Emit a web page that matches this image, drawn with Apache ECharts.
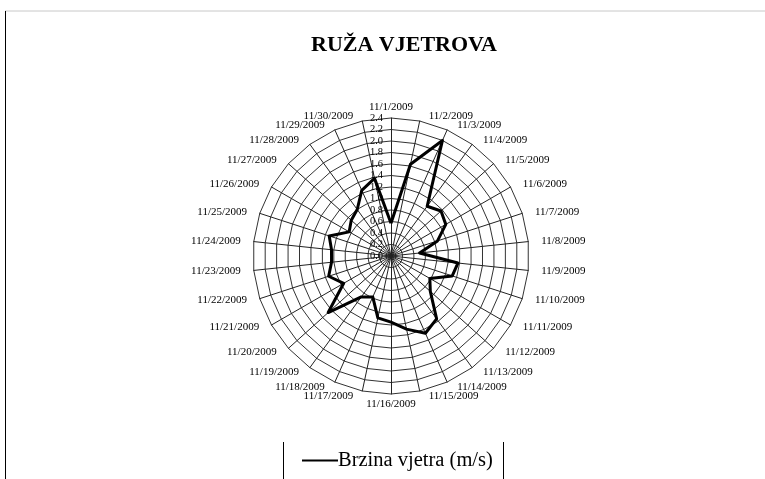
<!DOCTYPE html>
<html>
<head>
<meta charset="utf-8">
<script src="https://cdn.jsdelivr.net/npm/echarts@6/dist/echarts.min.js"></script>
<style>
  html, body { margin: 0; padding: 0; background: #fff; }
  #roseChart { width: 765px; height: 479px; }
</style>
</head>
<body>
<div id="roseChart"></div>
<script>
// datumi (kategorije)
const dani = [
  "11/1/2009", "11/2/2009", "11/3/2009", "11/4/2009", "11/5/2009",
  "11/6/2009", "11/7/2009", "11/8/2009", "11/9/2009", "11/10/2009",
  "11/11/2009", "11/12/2009", "11/13/2009", "11/14/2009", "11/15/2009",
  "11/16/2009", "11/17/2009", "11/18/2009", "11/19/2009", "11/20/2009",
  "11/21/2009", "11/22/2009", "11/23/2009", "11/24/2009", "11/25/2009",
  "11/26/2009", "11/27/2009", "11/28/2009", "11/29/2009", "11/30/2009"
];
// brzina vjetra (m/s)
const brzina = [
  0.57, 1.63, 2.2, 1.07, 1.17,
  1.1, 0.85, 0.5, 1.17, 1.12,
  0.78, 0.92, 1.35, 1.47, 1.3,
  1.15, 1.1, 0.78, 0.88, 1.47,
  0.95, 1.14, 1.04, 1.04, 1.13,
  0.84, 0.93, 1.0, 1.25, 1.38
];
const maxVal = 2.4;

// radar u echarts ide suprotno od kazaljke -> prvi ostaje, ostali obrnuto
const redoslijed = (arr) => [arr[0]].concat(arr.slice(1).reverse());

let chartDom = document.getElementById("roseChart");
let myChart = echarts.init(chartDom);
let option;

const serif = "Liberation Serif";

option = {
  backgroundColor: "#fff",
  animation: false,
  title: {
    text: "RUŽA VJETROVA",
    left: 306,
    top: 29,
    textStyle: { fontFamily: serif, fontSize: 22, fontWeight: "bold", color: "#000" },
  },
  legend: {
    bottom: 8,
    left: 302,
    padding: 0,
    icon: "rect",
    itemWidth: 36,
    itemHeight: 2,
    itemGap: 0,
    textStyle: { fontFamily: serif, fontSize: 20.5, color: "#000", padding: [0, 0, 0, -5] },
    data: ["Brzina vjetra (m/s)"],
  },
  radar: {
    center: [391, 256],
    radius: 138,
    startAngle: 90,
    shape: "polygon",
    splitNumber: 12,
    nameGap: 5,
    axisName: { color: "#000", fontFamily: serif, fontSize: 11, padding: [0, 8] },
    splitArea: { show: false },
    splitLine: { lineStyle: { color: "#333", width: 1 } },
    axisLine: { lineStyle: { color: "#222", width: 1 } },
    axisTick: { show: false },
    axisLabel: { show: false },
    indicator: redoslijed(dani).map((d, i) => ({
      name: d,
      min: 0,
      max: maxVal,
      // vrijednosti samo na prvoj osi
      axisLabel: i === 0
        ? { show: true, color: "#000", fontFamily: serif, fontSize: 10.5, margin: 8,
            showMinLabel: true, showMaxLabel: true,
            formatter: (v) => Number(v).toFixed(1) }
        : { show: false },
    })),
  },
  series: [
    {
      type: "radar",
      name: "Brzina vjetra (m/s)",
      symbol: "none",
      lineStyle: { color: "#000", width: 3 },
      itemStyle: { color: "#000" },
      data: [{ value: redoslijed(brzina), name: "Brzina vjetra (m/s)" }],
    },
  ],
  graphic: [
    // okvir područja grafikona
    { type: "line", shape: { x1: 5, y1: 11, x2: 765, y2: 11 }, style: { stroke: "#c8c8c8", lineWidth: 1 } },
    { type: "line", shape: { x1: 5.5, y1: 11, x2: 5.5, y2: 479 }, style: { stroke: "#000", lineWidth: 1 } },
    // okvir legende
    { type: "line", shape: { x1: 283.5, y1: 442, x2: 283.5, y2: 479 }, style: { stroke: "#000", lineWidth: 1 } },
    { type: "line", shape: { x1: 503.5, y1: 442, x2: 503.5, y2: 479 }, style: { stroke: "#000", lineWidth: 1 } },
  ],
};

option && myChart.setOption(option);
</script>
</body>
</html>
